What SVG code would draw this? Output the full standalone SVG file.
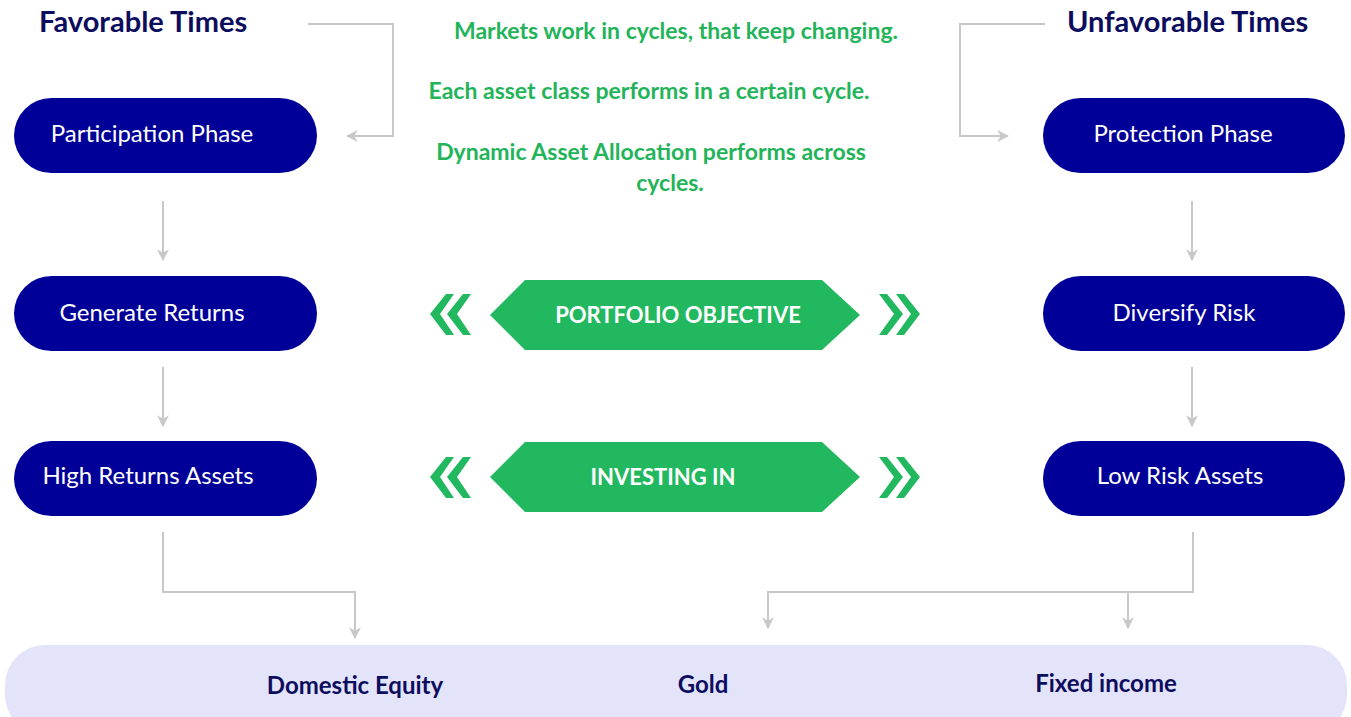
<svg xmlns="http://www.w3.org/2000/svg" width="1351" height="717" viewBox="0 0 1351 717">
<defs>
<style>
.pill{fill:#000099}
.nt{font-family:Lato,"Liberation Sans",sans-serif;font-size:24px;fill:#ffffff;text-anchor:middle}
.ttl{font-family:Lato,"Liberation Sans",sans-serif;font-size:29px;font-weight:bold;fill:#0d0d5e}
.gt{font-family:Lato,"Liberation Sans",sans-serif;font-size:23px;font-weight:bold;fill:#23b45a;text-anchor:middle}
.hex{fill:#22b85f}
.ht{font-family:Lato,"Liberation Sans",sans-serif;font-size:22px;font-weight:bold;fill:#ffffff;text-anchor:middle}
.bt{font-family:Lato,"Liberation Sans",sans-serif;font-size:24px;font-weight:bold;fill:#0d0d5e;text-anchor:middle}
.con{fill:none;stroke:#c8c8c8;stroke-width:2}
</style>
<marker id="ah" viewBox="0 0 10 10" refX="9" refY="5" markerWidth="6" markerHeight="6" orient="auto" markerUnits="strokeWidth">
<path d="M0,0 L10,5 L0,10 L3,5 Z" fill="#c8c8c8"/>
</marker>
</defs>
<rect width="1351" height="717" fill="#ffffff"/>

<g id="titles">
<text class="ttl" x="39" y="32">Favorable Times</text>
<text class="ttl" x="1067" y="32">Unfavorable Times</text>
</g>

<g id="notes">
<text class="gt" x="676" y="39">Markets work in cycles, that keep changing.</text>
<text class="gt" x="649" y="99">Each asset class performs in a certain cycle.</text>
<text class="gt" x="651" y="160">Dynamic Asset Allocation performs across</text>
<text class="gt" x="670" y="191">cycles.</text>
</g>

<g id="connectors">
<path class="con" d="M308,24 H393 V136 H347" marker-end="url(#ah)"/>
<path class="con" d="M1045,24 H960 V136 H1008" marker-end="url(#ah)"/>
<path class="con" d="M163,201 V260" marker-end="url(#ah)"/>
<path class="con" d="M163,367 V426" marker-end="url(#ah)"/>
<path class="con" d="M1192,201 V260" marker-end="url(#ah)"/>
<path class="con" d="M1192,367 V426" marker-end="url(#ah)"/>
<path class="con" d="M163,532 V592 H355 V638" marker-end="url(#ah)"/>
<path class="con" d="M1193,532 V592 H768 V628" marker-end="url(#ah)"/>
<path class="con" d="M1128,592 V628" marker-end="url(#ah)"/>
</g>

<g id="participation">
<rect class="pill" x="14" y="98" width="303" height="75" rx="37.5"/>
<text class="nt" x="152" y="142">Participation Phase</text>
</g>
<g id="generate">
<rect class="pill" x="14" y="276" width="303" height="75" rx="37.5"/>
<text class="nt" x="152" y="321">Generate Returns</text>
</g>
<g id="highreturns">
<rect class="pill" x="14" y="441" width="303" height="75" rx="37.5"/>
<text class="nt" x="148" y="484">High Returns Assets</text>
</g>
<g id="protection">
<rect class="pill" x="1043" y="98" width="302" height="75" rx="37.5"/>
<text class="nt" x="1183" y="142">Protection Phase</text>
</g>
<g id="diversify">
<rect class="pill" x="1043" y="276" width="302" height="75" rx="37.5"/>
<text class="nt" x="1184" y="321">Diversify Risk</text>
</g>
<g id="lowrisk">
<rect class="pill" x="1043" y="441" width="302" height="75" rx="37.5"/>
<text class="nt" x="1180" y="484">Low Risk Assets</text>
</g>

<g id="objective">
<polygon class="hex" points="490,315 525,280 822,280 860,315 822,350 525,350"/>
<polygon class="hex" points="446,294 454,294 440,314 454,335 446,335 430,314"/>
<polygon class="hex" points="463,294 471,294 457,314 471,335 463,335 447,314"/>
<polygon class="hex" points="879,294 887,294 903,314 887,335 879,335 894,314"/>
<polygon class="hex" points="896,294 904,294 920,314 904,335 896,335 911,314"/>
<text class="ht" x="678" y="323">PORTFOLIO OBJECTIVE</text>
</g>

<g id="investing">
<polygon class="hex" points="490,477 525,442 822,442 860,477 822,512 525,512"/>
<polygon class="hex" points="446,457 454,457 440,477 454,498 446,498 430,477"/>
<polygon class="hex" points="463,457 471,457 457,477 471,498 463,498 447,477"/>
<polygon class="hex" points="879,457 887,457 903,477 887,498 879,498 894,477"/>
<polygon class="hex" points="896,457 904,457 920,477 904,498 896,498 911,477"/>
<text class="ht" x="663" y="485">INVESTING IN</text>
</g>

<g id="assets">
<rect x="5" y="645" width="1342" height="90" rx="40" fill="#e3e3fa"/>
<text class="bt" x="355" y="694">Domestic Equity</text>
<text class="bt" x="703" y="693">Gold</text>
<text class="bt" x="1106" y="692">Fixed income</text>
</g>
</svg>
